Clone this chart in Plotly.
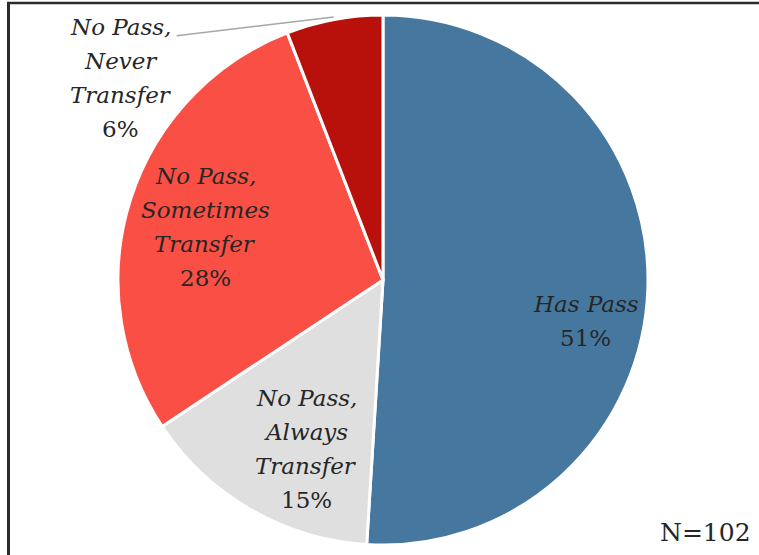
import math
import plotly.graph_objects as go

# ---- data ----
labels = ["Has Pass", "No Pass, Always Transfer", "No Pass, Sometimes Transfer", "No Pass, Never Transfer"]
label_lines = [["Has Pass"], ["No Pass,", "Always", "Transfer"], ["No Pass,", "Sometimes", "Transfer"], ["No Pass,", "Never", "Transfer"]]
counts = [52, 15, 29, 6]
n_total_label = "N=102"

# ---- style ----
colors = ["#46789F", "#DFDFDF", "#FA4F45", "#B8100A"]
W, H = 759, 555
L, R, T, B = 118, 111, 15, 10
PW, PH = W - L - R, H - T - B
RAD = min(PW, PH) / 2
CX, CY = L + PW / 2, T + PH / 2
FONT = "DejaVu Serif"
FS = 23
TXT = "#262626"
LINE_H = 34
# label placement (angle shift in degrees, radius fraction)
dtheta = [9.6, -5.5, -1.0, -41.8]
rfrac = [0.78, 0.70, 0.70, 1.25]


def xp(x):
    return (x - L) / PW


def yp(y):
    return (H - B - y) / PH


fig = go.Figure(go.Pie(
    labels=labels, values=counts, sort=False, direction="clockwise", rotation=0,
    marker=dict(colors=colors, line=dict(color="white", width=3)),
    textinfo="none", hoverinfo="label+percent", showlegend=False,
    domain=dict(x=[0, 1], y=[0, 1]),
))

total = sum(counts)
annotations = []
shapes = []
cum = 0
for i, v in enumerate(counts):
    mid = 360 * (cum + v / 2) / total
    cum += v
    th = math.radians(mid + dtheta[i])
    rr = rfrac[i] * RAD
    lx = CX + rr * math.sin(th)
    ly = CY - rr * math.cos(th)
    pct = f"{round(100 * v / total)}%"
    lines = [f"<i>{t}</i>" for t in label_lines[i]] + [pct]
    n = len(lines)
    for j, t in enumerate(lines):
        off = (j - (n - 1) / 2) * LINE_H
        annotations.append(dict(
            x=xp(lx), y=yp(ly + off), xref="paper", yref="paper", text=t,
            showarrow=False, xanchor="center", yanchor="middle",
            font=dict(family=FONT, size=FS, color=TXT),
        ))
    if rfrac[i] > 1:
        # leader line from slice edge to label
        m = math.radians(mid)
        sx = CX + 1.01 * RAD * math.sin(m)
        sy = CY - 1.01 * RAD * math.cos(m)
        ex, ey = lx + 56, ly - 42
        shapes.append(dict(type="line", xref="paper", yref="paper",
                           x0=xp(sx), y0=yp(sy), x1=xp(ex), y1=yp(ey),
                           line=dict(color="#A6A6A6", width=1.5)))

annotations.append(dict(
    x=xp(705), y=yp(532), xref="paper", yref="paper", text=n_total_label,
    showarrow=False, xanchor="center", yanchor="middle",
    font=dict(family=FONT, size=25, color=TXT),
))

# frame lines (top and left)
shapes.append(dict(type="line", xref="paper", yref="paper",
                   x0=xp(7), y0=yp(3), x1=xp(W), y1=yp(3),
                   line=dict(color="#2B2B2B", width=2.5)))
shapes.append(dict(type="line", xref="paper", yref="paper",
                   x0=xp(8.5), y0=yp(2), x1=xp(8.5), y1=yp(H),
                   line=dict(color="#2B2B2B", width=3)))

fig.update_layout(
    width=W, height=H, margin=dict(l=L, r=R, t=T, b=B),
    paper_bgcolor="white", plot_bgcolor="white",
    annotations=annotations, shapes=shapes,
)
fig.write_html("out.html", config={"displayModeBar": False},
               post_script="document.body.style.margin='0';document.body.style.overflow='hidden';")
